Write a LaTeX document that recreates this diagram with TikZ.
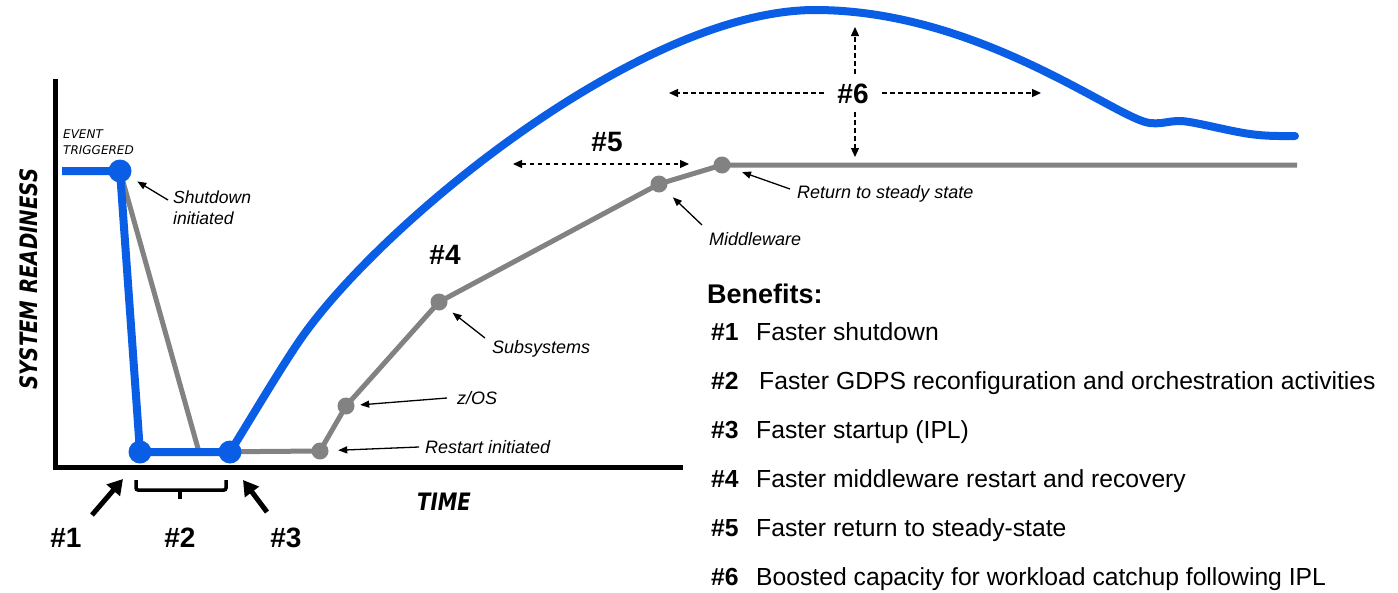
\documentclass[tikz,border=0pt]{standalone}
\usepackage{fontspec}
\setmainfont{Liberation Sans}
\newfontfamily\djv{DejaVu Sans}
\newfontfamily\djvc[FakeStretch=0.82]{DejaVu Sans}
\usetikzlibrary{arrows.meta}
\definecolor{bblue}{RGB}{10,94,230}
\definecolor{ggray}{RGB}{130,130,130}
\newcommand{\myfs}[1]{\fontsize{#1}{#1}\selectfont}
\begin{document}
\begin{tikzpicture}[x=1pt,y=-1pt,
 axis/.style={line width=5pt,black,line join=miter},
 bluel/.style={line width=8pt,draw=bblue,line join=round},
 grayl/.style={line width=5pt,draw=ggray,line join=round},
 bdot/.style={circle,fill=bblue,minimum size=23pt,inner sep=0pt},
 gdot/.style={circle,fill=ggray,minimum size=17pt,inner sep=0pt},
 lbl/.style={font=\myfs{18}\itshape,inner sep=0pt,text height=13pt,text depth=0pt,anchor=west},
 larrow/.style={-{Triangle[length=9pt,width=7pt]},line width=1.3pt},
 dtip/.style={-{Triangle[length=9pt,width=8pt]},line width=1.3pt,dash pattern=on 4.5pt off 3.5pt},
 ddtip/.style={{Triangle[length=9pt,width=8pt]}-{Triangle[length=9pt,width=8pt]},line width=1.3pt,dash pattern=on 4.5pt off 3.5pt},
 num/.style={font=\myfs{28}\bfseries,inner sep=0pt,text height=20.2pt,text depth=0pt},
 bigarrow/.style={-{Triangle[length=15pt,width=17pt]},line width=5pt},
 benhead/.style={font=\myfs{27}\bfseries,inner sep=0pt,text height=19.4pt,text depth=0pt,anchor=west},
 bennum/.style={font=\myfs{24.7}\bfseries,inner sep=0pt,text height=17.8pt,text depth=0pt,anchor=west},
 bentxt/.style={font=\myfs{24.7},inner sep=0pt,text height=17.8pt,text depth=0pt,anchor=west},
 axlbl/.style={font=\djvc\bfseries\itshape\myfs{24},inner sep=0pt,text height=17.5pt,text depth=0pt},
 evlbl/.style={font=\djv\itshape\myfs{12},inner sep=0pt,text height=8.8pt,text depth=0pt,anchor=west},
]
\useasboundingbox (0,0) rectangle (1398,592);
\fill[white] (0,0) rectangle (1398,592);

% axes
\coordinate (ytop) at (55,79);
\coordinate (orig) at (55,467);
\coordinate (xend) at (683,467);
\draw[axis] (ytop) -- (orig) -- (xend);

% key points
\coordinate (S0) at (62,171);
\coordinate (B1) at (120,171);
\coordinate (B2) at (140,452);
\coordinate (B3) at (230,452);
\coordinate (G0) at (199,452);
\coordinate (G1) at (320,451);
\coordinate (G2) at (346,406);
\coordinate (G3) at (439,302);
\coordinate (G4) at (659,184);
\coordinate (G5) at (722,165);
\coordinate (GE) at (1297,165);
\coordinate (C1) at (300,340);
\coordinate (PK) at (815,10);
\coordinate (DP) at (1150,123);
\coordinate (BM) at (1180,121);
\coordinate (C2) at (1250,134);
\coordinate (BE) at (1295,136);

% gray line
\draw[grayl] (B1) -- (G0) -- (G1) -- (G2) -- (G3) -- (G4) -- (G5) -- (GE);
\node[gdot] (g1) at (G1) {};
\node[gdot] (g2) at (G2) {};
\node[gdot] (g3) at (G3) {};
\node[gdot] (g4) at (G4) {};
\node[gdot] (g5) at (G5) {};

% blue line
\draw[bluel] (S0) -- (B1) -- (B2) -- (B3);
\draw[bluel,line cap=round] (B3) .. controls (250,420) and (280,369) .. (C1)
  .. controls (380,224) and (640,10) .. (PK)
  .. controls (980,10) and (1118,120) .. (DP)
  .. controls (1162,124.3) and (1168,121) .. (BM)
  .. controls (1192,121) and (1228,131) .. (C2)
  .. controls (1268,136.5) and (1283,136) .. (BE);
\node[bdot] (b1) at (B1) {};
\node[bdot] (b2) at (B2) {};
\node[bdot] (b3) at (B3) {};

% axis labels
\node[axlbl,rotate=90] (ylab) at (29,279) {SYSTEM READINESS};
\node[axlbl] (xlab) at (444,502) {TIME};
\node[evlbl] (ev1) at (63,134) {EVENT};
\node[evlbl] (ev2) at (63,150) {TRIGGERED};

% callout labels
\node[font=\myfs{17.5}\itshape,inner sep=0pt,anchor=north west,align=left] (tshut) at (173,191) {Shutdown\\[3pt]initiated};
\draw[larrow,shorten >=8.5pt] ([xshift=-5pt,yshift=-9pt]tshut.north west) -- (b1);
\node[lbl] (trest) at (425,447) {Restart initiated};
\draw[larrow,shorten >=9.5pt] ([xshift=-6pt]trest.west) -- (g1);
\node[lbl] (tzos) at (457,398) {z/OS};
\draw[larrow,shorten >=5.5pt] ([xshift=-10pt]tzos.west) -- (g2);
\node[lbl] (tsub) at (492,347) {Subsystems};
\draw[larrow,shorten >=8.5pt] ([xshift=-7pt,yshift=9pt]tsub.west) -- (g3);
\node[lbl] (tmid) at (709,239) {Middleware};
\draw[larrow,shorten >=10.5pt] ([xshift=-7pt,yshift=14pt]tmid.west) -- (g4);
\node[lbl] (tret) at (797,192) {Return to steady state};
\draw[larrow,shorten >=12.5pt] ([xshift=-7pt,yshift=3pt]tret.west) -- (g5);

% #4 #5 #6
\node[num] (n4) at (445,254) {\#4};
\node[num] (n5) at (607,141) {\#5};
\coordinate (a5l) at (513,164);
\coordinate (a5r) at (689,164);
\draw[ddtip] (a5l) -- (a5r);
\node[num,inner xsep=13.5pt,inner ysep=9pt] (n6) at (853,93) {\#6};
\coordinate (a6t) at (855,27);
\coordinate (a6b) at (855,157);
\coordinate (a6l) at (669,93);
\coordinate (a6r) at (1041,93);
\draw[dtip] (n6.north -| a6t) -- (a6t);
\draw[dtip] (n6.south -| a6b) -- (a6b);
\draw[dtip] (n6.west |- a6l) -- (a6l);
\draw[dtip] (n6.east |- a6r) -- (a6r);

% #1 #2 #3
\node[num] (n1) at (66,537) {\#1};
\node[num] (n2) at (180,537) {\#2};
\node[num] (n3) at (286,537) {\#3};
\coordinate (a1s) at (92,515);
\coordinate (a1e) at (123,479);
\draw[bigarrow] (a1s) -- (a1e);
\coordinate (a3s) at (267,512);
\coordinate (a3e) at (243,480);
\draw[bigarrow] (a3s) -- (a3e);
\coordinate (k1) at (136,480);
\coordinate (k2) at (136,490);
\coordinate (k3) at (226,490);
\coordinate (k4) at (226,480);
\coordinate (km) at (180,490);
\coordinate (kt) at (180,499);
\draw[line width=3.5pt,rounded corners=2pt] (k1) -- (k2) -- (k3) -- (k4);
\draw[line width=3.5pt] (km) -- (kt);

% benefits
\node[benhead] (bh) at (707,294) {Benefits:};
\node[bennum] (bn1) at (711,332) {\#1};
\node[bentxt] (bt1) at (756,332) {Faster shutdown};
\node[bennum] (bn2) at (711,381) {\#2};
\node[bentxt] (bt2) at (759,381) {Faster GDPS reconfiguration and orchestration activities};
\node[bennum] (bn3) at (711,430) {\#3};
\node[bentxt] (bt3) at (756,430) {Faster startup (IPL)};
\node[bennum] (bn4) at (711,479) {\#4};
\node[bentxt] (bt4) at (756,479) {Faster middleware restart and recovery};
\node[bennum] (bn5) at (711,528) {\#5};
\node[bentxt] (bt5) at (756,528) {Faster return to steady-state};
\node[bennum] (bn6) at (711,577) {\#6};
\node[bentxt] (bt6) at (756,577) {Boosted capacity for workload catchup following IPL};
\end{tikzpicture}
\end{document}
